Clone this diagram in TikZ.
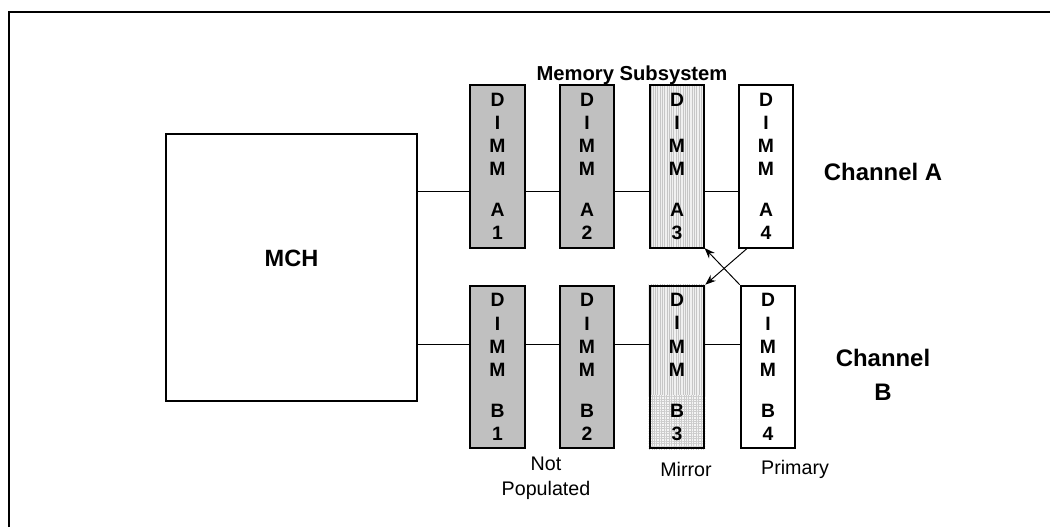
\documentclass[tikz,border=0pt]{standalone}
\usepackage{fontspec}
\setmainfont{Liberation Sans}
\usetikzlibrary{arrows.meta,patterns.meta,backgrounds}
\definecolor{slotgray}{RGB}{192,192,192}
\tikzset{
	dimm/.style={draw,line width=1.2pt,minimum width=1.09cm,minimum height=3.25cm,
		inner sep=0pt,align=center,font=\fontsize{11}{13.2}\selectfont\bfseries},
	notpop/.style={dimm,fill=slotgray},
	mirror/.style={dimm,preaction={fill=gray!12},
		pattern={Lines[angle=90,distance=1.3pt,line width=0.4pt]},pattern color=gray!45},
	mirrorfill/.style={preaction={fill=gray!12},
		pattern={Lines[angle=90,distance=1.3pt,line width=0.4pt]},pattern color=gray!45},
	gridfill/.style={preaction={fill=gray!8},
		pattern={Hatch[angle=0,distance=1.4pt,line width=0.3pt]},pattern color=gray!40},
	chip/.style={draw,line width=1pt,minimum width=5.02cm,minimum height=5.34cm},
	bus/.style={line width=0.55pt},
	swap/.style={line width=0.55pt,-{Stealth[length=6pt,width=4.5pt]}},
	caption/.style={inner sep=0pt,font=\fontsize{11.2}{14}\selectfont},
}
\newcommand{\dimmlabel}[2]{D\\I\\M\\M\\[10pt]#1\\#2}
\begin{document}
\begin{tikzpicture}[x=0.02cm,y=-0.02cm]
	\useasboundingbox (0,0) rectangle (1050,527);
	% frame
	\draw[line width=1.2pt] (9,527) -- (9,12) -- (1050,12);
	% controller
	\node[chip] (mch) at (291.5,267.5) {};
	\node[anchor=center,font=\fontsize{13.4}{16}\selectfont\bfseries] (mchlabel)
		at ([yshift=0.19cm]mch.center) {MCH};
	% dimm slots
	\foreach \i/\x/\s in {1/497.5/notpop,2/587/notpop,3/677/mirror,4/766/dimm}
		\node[\s] (a\i) at (\x,166.5) {\dimmlabel{A}{\i}};
	\foreach \i/\x/\s in {1/497.5/notpop,2/587/notpop,3/677/dimm,4/768/dimm}
		\node[\s] (b\i) at (\x,367) {\dimmlabel{B}{\i}};
	\coordinate (split) at (0,395);
	\begin{scope}[on background layer]
		\path[mirrorfill] (b3.north west) rectangle (b3.east |- split);
		\path[gridfill] (b3.west |- split) rectangle (b3.south east);
	\end{scope}
	% buses
	\coordinate (busA) at (0,191);
	\coordinate (busB) at (0,344);
	\draw[bus] (mch.east |- busA) -- (a1.west |- busA);
	\draw[bus] (mch.east |- busB) -- (b1.west |- busB);
	\foreach \i/\j in {1/2,2/3,3/4}{
		\draw[bus] (a\i.east |- busA) -- (a\j.west |- busA);
		\draw[bus] (b\i.east |- busB) -- (b\j.west |- busB);
	}
	% mirroring
	\draw[swap] ([xshift=0.18cm]a4.south west) -- (b3.north east);
	\draw[swap] (b4.north west) -- (a3.south east);
	% labels
	\node[anchor=center,font=\fontsize{11.5}{14}\selectfont\bfseries] (title)
		at (632,75) {Memory Subsystem};
	\node[anchor=center,font=\fontsize{13.6}{16}\selectfont\bfseries] (chanA)
		at (883,172) {Channel A};
	\node[anchor=center,align=center,font=\fontsize{13.6}{19}\selectfont\bfseries] (chanB)
		at (883,375) {Channel\\B};
	\node[caption,align=center] (notpoplbl) at (546,478) {Not\\Populated};
	\node[caption] (mirrorlbl) at (686,469) {Mirror};
	\node[caption] (primarylbl) at (795,469) {Primary};
\end{tikzpicture}
\end{document}
